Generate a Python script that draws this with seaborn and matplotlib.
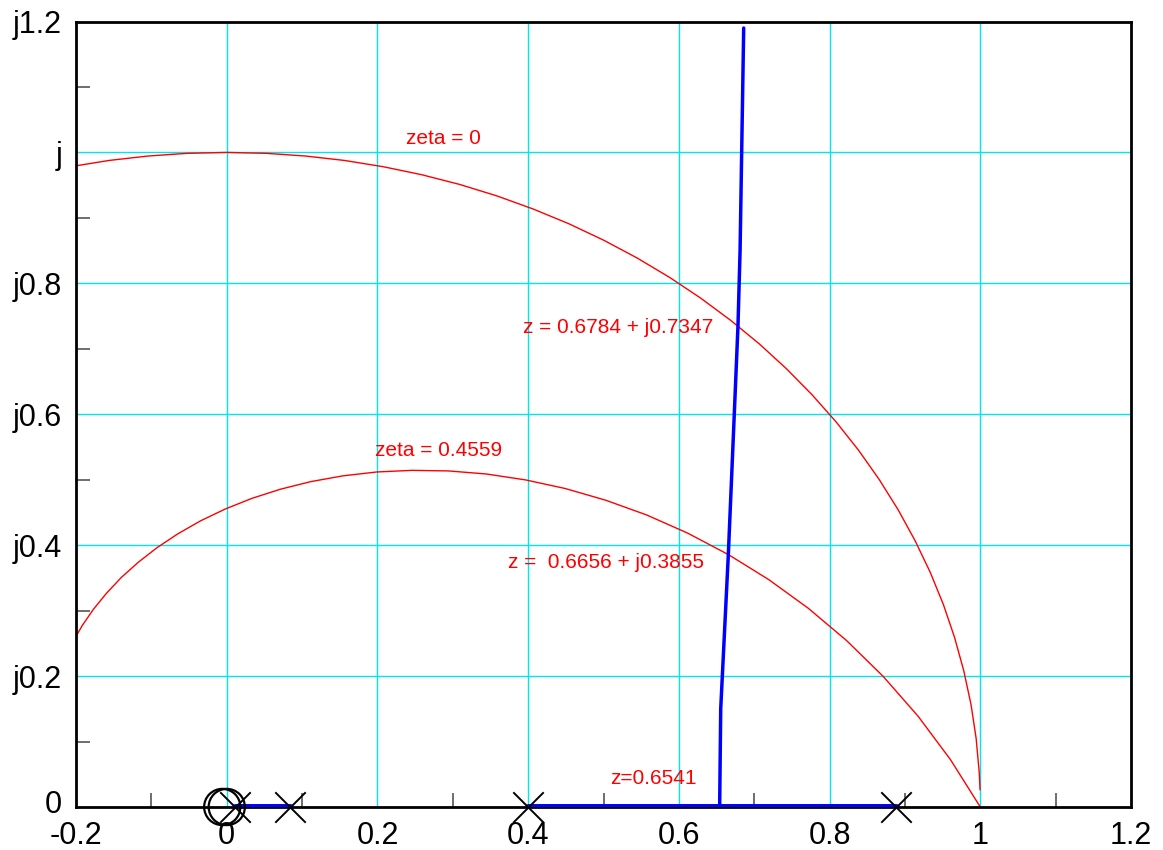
import numpy as np
import pandas as pd
import matplotlib
matplotlib.use("Agg")
import matplotlib.pyplot as plt
import matplotlib.transforms as mtransforms
import seaborn as sns

# unit circle (zeta = 0)
circle_x = [0.9997, 0.9986, 0.9945, 0.9877, 0.9781, 0.9659, 0.9511, 0.9336, 0.9135, 0.8910,
            0.8660, 0.8387, 0.8090, 0.7771, 0.7431, 0.7071, 0.6691, 0.6293, 0.5878, 0.5446,
            0.5000, 0.4540, 0.4067, 0.3584, 0.3090, 0.2588, 0.2079, 0.1564, 0.1045, 0.0523,
            0.0000, -0.0523, -0.1045, -0.1564, -0.2079]
circle_y = [0.0262, 0.0523, 0.1045, 0.1564, 0.2079, 0.2588, 0.3090, 0.3584, 0.4067, 0.4540,
            0.5000, 0.5446, 0.5878, 0.6293, 0.6691, 0.7071, 0.7431, 0.7771, 0.8090, 0.8387,
            0.8660, 0.8910, 0.9135, 0.9336, 0.9511, 0.9659, 0.9781, 0.9877, 0.9945, 0.9986,
            1.0000, 0.9986, 0.9945, 0.9877, 0.9781]

# constant damping curve (zeta = 0.4559)
zeta_x = [1.0, 0.9605, 0.9174, 0.8712, 0.8224, 0.7716, 0.7192, 0.6657, 0.6116, 0.5573,
          0.5030, 0.4493, 0.3965, 0.3446, 0.2945, 0.2458, 0.1990, 0.1542, 0.1116, 0.0713,
          0.0334, -0.0019, -0.0347, -0.0648, -0.0924, -0.1174, -0.1400, -0.1595, -0.1768,
          -0.1915, -0.2041]
zeta_y = [0.0, 0.0722, 0.1387, 0.1994, 0.2544, 0.3037, 0.3474, 0.3856, 0.4184, 0.4461,
          0.4686, 0.4865, 0.4997, 0.5087, 0.5134, 0.5143, 0.5118, 0.5059, 0.4971, 0.4855,
          0.4715, 0.4553, 0.4372, 0.4174, 0.3963, 0.3739, 0.3506, 0.3267, 0.3023,
          0.2777, 0.2528]

# root locus branch leaving the real axis
locus_x = [0.6541, 0.6555, 0.6656, 0.6735, 0.6784, 0.6812, 0.6860]
locus_y = [0.0, 0.15, 0.3855, 0.6, 0.7347, 0.85, 1.19]

# real axis segments of the locus
seg1_x = [0.011, 0.084]
seg2_x = [0.400, 0.888]

poles = [0.011, 0.084, 0.400, 0.888]
zeros = [-0.006, 0.0]

x_ticks = [-0.2, 0.0, 0.2, 0.4, 0.6, 0.8, 1.0, 1.2]
x_labels = ["-0.2", "0", "0.2", "0.4", "0.6", "0.8", "1", "1.2"]
y_ticks = [0.0, 0.2, 0.4, 0.6, 0.8, 1.0, 1.2]
y_labels = ["0", "j0.2", "j0.4", "j0.6", "j0.8", "j", "j1.2"]

sns.set_style("white")
plt.rcParams['font.family'] = ['Liberation Sans', 'DejaVu Sans']

fig = plt.figure(figsize=(11.63, 8.5), dpi=100)
ax = fig.add_axes([0.0654, 0.0506, 0.9071, 0.9241])

# grid lines
for gx in x_ticks[1:-1]:
    ax.axvline(gx, color='#00e5ee', lw=1, zorder=0)
for gy in y_ticks[1:-1]:
    ax.axhline(gy, color='#00e5ee', lw=1, zorder=0)

sns.lineplot(x=circle_x, y=circle_y, sort=False, estimator=None, color='red', lw=1, ax=ax)
sns.lineplot(x=zeta_x, y=zeta_y, sort=False, estimator=None, color='red', lw=1, ax=ax)
sns.lineplot(x=locus_x, y=locus_y, sort=False, estimator=None, color='blue', lw=2.5, ax=ax)
sns.lineplot(x=seg1_x, y=[0, 0], sort=False, estimator=None, color='blue', lw=5, ax=ax, zorder=4)
sns.lineplot(x=seg2_x, y=[0, 0], sort=False, estimator=None, color='blue', lw=5, ax=ax, zorder=4)

sns.scatterplot(x=poles, y=[0] * len(poles), marker='x', s=480, color='black',
                linewidth=1.4, ax=ax, zorder=6, clip_on=False)
sns.scatterplot(x=zeros, y=[0] * len(zeros), marker='o', s=680, facecolors='none',
                edgecolors='black', linewidth=1.6, ax=ax, zorder=6, clip_on=False)

# annotations
txt = dict(color='red', fontsize=15)
ax.text(0.238, 1.021, "zeta = 0", va='center', **txt)
ax.text(0.393, 0.733, "z = 0.6784 + j0.7347", va='center', **txt)
ax.text(0.197, 0.545, "zeta = 0.4559", va='center', **txt)
ax.text(0.373, 0.374, "z =  0.6656 + j0.3855", va='center', **txt)
ax.text(0.509, 0.043, "z=0.6541", va='center', **txt)

ax.set_xlim(-0.2, 1.2)
ax.set_ylim(0, 1.2)
ax.set_xticks(x_ticks)
ax.set_xticklabels(x_labels, fontsize=22, color='black')
ax.set_yticks(y_ticks)
ax.set_yticklabels(y_labels, fontsize=22, color='black')
ax.set_xticks(np.arange(-0.1, 1.2, 0.2), minor=True)
ax.set_yticks(np.arange(0.1, 1.2, 0.2), minor=True)
ax.tick_params(axis='x', which='major', length=0, pad=10)
ax.tick_params(axis='y', which='major', length=0, pad=10)
ax.tick_params(which='minor', direction='in', length=10, width=1.2, color='#555555')
ax.tick_params(bottom=True, left=True, which='minor')
for sp in ax.spines.values():
    sp.set_linewidth(2)
    sp.set_color('black')

# lift the "0" label on the y axis a touch so it clears "-0.2"
lab0 = ax.get_yticklabels()[0]
lab0.set_transform(lab0.get_transform() +
                   mtransforms.ScaledTranslation(0, 4 / 72, fig.dpi_scale_trans))

fig.savefig("out.png", dpi=100)
